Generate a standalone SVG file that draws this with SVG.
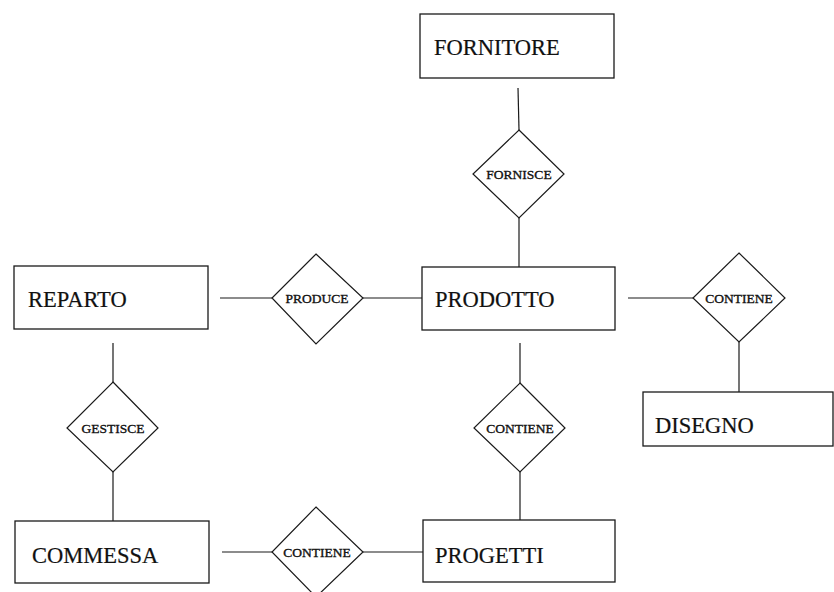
<svg xmlns="http://www.w3.org/2000/svg" width="834" height="592" viewBox="0 0 834 592">
<style>
.ent{fill:#fff;stroke:#1a1a1a;stroke-width:1.3}
.rel{fill:#fff;stroke:#1a1a1a;stroke-width:1.2}
.et{font-family:"Liberation Serif","Times New Roman",serif;font-size:22.5px;fill:#111;stroke:#111;stroke-width:0.2}
.rt{font-family:"Liberation Serif","Times New Roman",serif;font-size:13.5px;fill:#111;stroke:#111;stroke-width:0.35;text-anchor:middle}
#connectors line{stroke:#1a1a1a;stroke-width:1.2}
</style>
<rect width="834" height="592" fill="#fff"/>
<g id="connectors">
<line x1="518" y1="88" x2="519" y2="130"/>
<line x1="519" y1="218" x2="519" y2="267"/>
<line x1="220" y1="298" x2="272" y2="298"/>
<line x1="363" y1="298" x2="422" y2="298"/>
<line x1="628" y1="298" x2="693" y2="298"/>
<line x1="739" y1="342" x2="739" y2="392"/>
<line x1="113" y1="343" x2="113" y2="382"/>
<line x1="113" y1="472" x2="113" y2="521"/>
<line x1="520" y1="343" x2="520" y2="383"/>
<line x1="520" y1="472" x2="520" y2="520"/>
<line x1="222" y1="552" x2="272" y2="552"/>
<line x1="363" y1="552" x2="423" y2="552"/>
</g>
<g id="fornitore"><rect class="ent" x="420" y="14" width="194" height="64"/><text class="et" x="434" y="55">FORNITORE</text></g>
<g id="reparto"><rect class="ent" x="14" y="266" width="194" height="63"/><text class="et" x="28" y="306.5">REPARTO</text></g>
<g id="prodotto"><rect class="ent" x="422" y="267" width="193" height="63"/><text class="et" x="435" y="306.5">PRODOTTO</text></g>
<g id="disegno"><rect class="ent" x="643" y="392" width="190" height="54"/><text class="et" x="655" y="433">DISEGNO</text></g>
<g id="commessa"><rect class="ent" x="15" y="521" width="194" height="62"/><text class="et" x="32" y="563">COMMESSA</text></g>
<g id="progetti"><rect class="ent" x="423" y="520" width="192" height="62"/><text class="et" x="435" y="563">PROGETTI</text></g>
<g id="fornisce"><polygon class="rel" points="519,130 564,174 519,218 473,174"/><text class="rt" x="519" y="178.5">FORNISCE</text></g>
<g id="produce"><polygon class="rel" points="316,254 363,298 316,344 272,298"/><text class="rt" x="317" y="302.5">PRODUCE</text></g>
<g id="contiene-disegno"><polygon class="rel" points="739,253 785,298 739,342 693,298"/><text class="rt" x="739" y="302.5">CONTIENE</text></g>
<g id="gestisce"><polygon class="rel" points="113,382 158,428 113,472 67,428"/><text class="rt" x="113" y="432.5">GESTISCE</text></g>
<g id="contiene-progetti"><polygon class="rel" points="520,383 565,428 520,472 474,428"/><text class="rt" x="520" y="432.5">CONTIENE</text></g>
<g id="contiene-commessa"><polygon class="rel" points="316,507 363,552 316,597 272,552"/><text class="rt" x="317" y="556.5">CONTIENE</text></g>
</svg>
